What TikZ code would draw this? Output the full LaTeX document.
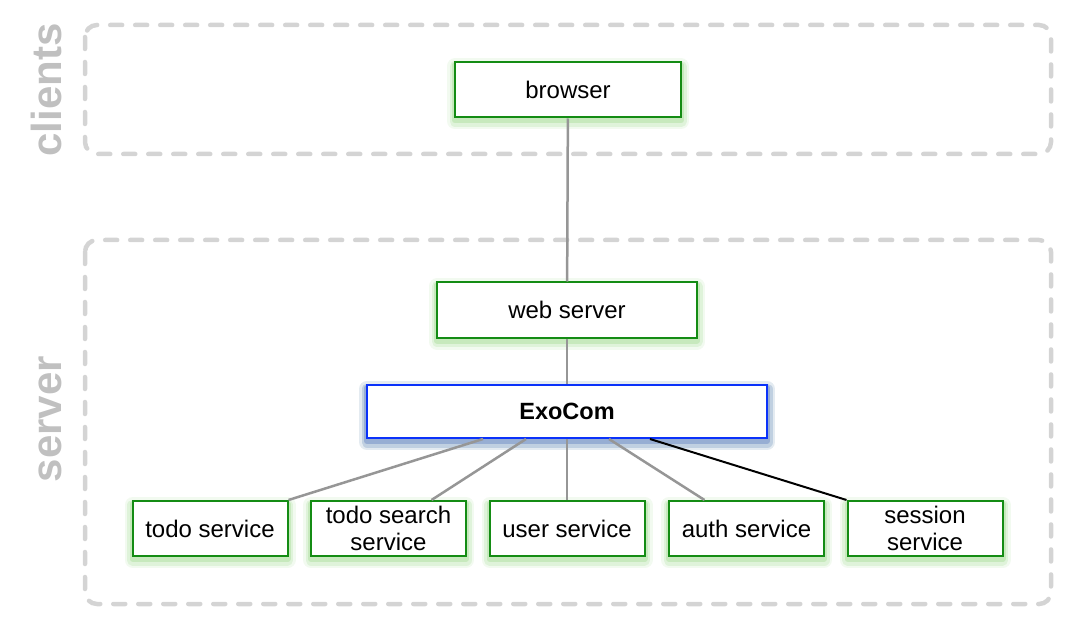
\documentclass[tikz,border=0pt]{standalone}
\usepackage{fontspec}
\setmainfont{Liberation Sans}
\usepackage{tikz}
\usetikzlibrary{calc}

\definecolor{boxgreen}{RGB}{20,140,20}
\definecolor{glowgreen}{RGB}{90,190,60}
\definecolor{exoblue}{RGB}{10,50,250}
\definecolor{glowblue}{RGB}{60,60,255}
\definecolor{linegray}{RGB}{150,150,150}
\definecolor{dashgray}{RGB}{212,212,212}
\definecolor{labelgray}{RGB}{192,192,192}

\begin{document}
\begin{tikzpicture}[x=1pt, y=-1pt,
    glow/.style={preaction={draw=#1, line width=16pt, line join=round, opacity=0.08, transform canvas={yshift=-4pt}},
                 preaction={draw=#1, line width=11pt, line join=round, opacity=0.12, transform canvas={yshift=-4pt}},
                 preaction={draw=#1, line width=6pt, line join=round, opacity=0.18, transform canvas={yshift=-3pt}}},
    box/.style={draw=boxgreen, line width=2pt, fill=white, glow=glowgreen, inner sep=0pt,
                minimum height=55pt, align=center, font=\fontsize{24}{26.5}\selectfont},
    service/.style={box, minimum width=155pt},
    hub/.style={box, draw=exoblue, glow=glowblue, minimum width=400pt, minimum height=53pt},
    group/.style={draw=dashgray, line width=4.5pt, dash pattern=on 12pt off 13pt, line cap=round, rounded corners=12pt},
    grouplabel/.style={text=labelgray, rotate=90, anchor=base, inner sep=0pt, font=\fontsize{42}{42}\selectfont\bfseries},
    link/.style={draw=linegray, line width=2.5pt}]
  \useasboundingbox (0,0) rectangle (1076,628);
  % tiers
  \draw[group] (85,25) rectangle (1051,154);
  \draw[group] (85,240) rectangle (1051,604);
  \node[grouplabel] (clientslabel) at (61,90) {clients};
  \node[grouplabel] (serverlabel) at (61,419) {server};
  % front
  \node[box, minimum width=226pt] (browser) at (568,90) {browser};
  \node[box, minimum width=260pt] (web) at (567,310) {web server};
  \node[hub] (exocom) at (567,411.5) {\fontsize{23.5}{26.5}\selectfont\bfseries ExoCom};
  % services
  \node[service] (todo) at (210,528.5) {todo service};
  \node[service] (search) at (388.5,528.5) {todo search\\service};
  \node[service] (user) at (567,528.5) {user service};
  \node[service] (auth) at (746.5,528.5) {auth service};
  \node[service] (session) at (925,528.5) {session\\service};
  % links
  \draw[link] (browser) -- (web);
  \draw[link] (web) -- (exocom);
  \draw[link] ([xshift=-84pt]exocom.south) -- (todo.north east);
  \draw[link] ([xshift=-41pt]exocom.south) -- ([xshift=43pt]search.north);
  \draw[link] (exocom) -- (user);
  \draw[link] ([xshift=42pt]exocom.south) -- ([xshift=-42pt]auth.north);
  \draw[black, line width=2pt] ([xshift=83pt]exocom.south) -- (session.north west);
\end{tikzpicture}
\end{document}
